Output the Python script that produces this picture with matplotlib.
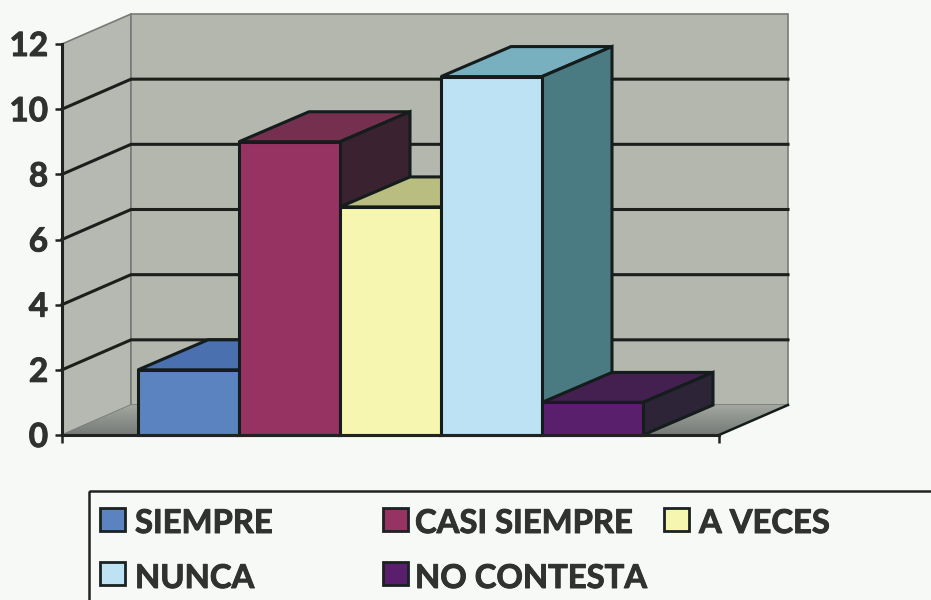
import matplotlib
matplotlib.use("Agg")
import matplotlib.pyplot as plt
import matplotlib.patheffects as pe
import numpy as np
from matplotlib.patches import Polygon, Rectangle

categories = ["SIEMPRE", "CASI SIEMPRE", "A VECES", "NUNCA", "NO CONTESTA"]
values = [2, 9, 7, 11, 1]
y_ticks = [0, 2, 4, 6, 8, 10, 12]
front_colors = ["#5b83bf", "#963362", "#f6f6b0", "#bde2f3", "#5a1f6c"]
top_colors = ["#4a70b0", "#75304f", "#b9bd80", "#79b0bf", "#43204f"]
side_colors = ["#2f4a78", "#3a2231", "#8a8c58", "#4b7b82", "#2d2437"]

PAPER = "#f6f9f5"
INK = "#303230"
EDGE = "#141c1c"
W, H = 931, 600
L, R, T, B = 62, 719, 44, 435
BAR0, BARW = 138, 101.0
DX_PX, DY_PX = 70, 30

plt.rcParams["font.family"] = ["Lato", "DejaVu Sans"]
fig = plt.figure(figsize=(W / 100, H / 100), dpi=100, facecolor=PAPER)
ax = fig.add_axes([L / W, 1 - B / H, (R - L) / W, (B - T) / H])
ax.set_facecolor("none")
x0 = -(BAR0 - L) / BARW
x1 = (R - BAR0) / BARW
dx = DX_PX / BARW
dy = DY_PX * 12 / (B - T)
wx = 69 / BARW  # wall depth

# walls and floor
ax.add_patch(Polygon([(x0, 0), (x0, 12), (x0 + wx, 12 + dy), (x0 + wx, dy)], fc="#b6b9b2",
                     ec="#777b75", lw=1.2, clip_on=False, zorder=1))
ax.add_patch(Polygon([(x0 + wx, dy), (x0 + wx, 12 + dy), (x1 + wx, 12 + dy), (x1 + wx, dy)], fc="#b4b7ae",
                     ec="#777b75", lw=1.2, clip_on=False, zorder=1))
floor = Polygon([(x0, 0), (x1, 0), (x1 + wx, dy), (x0 + wx, dy)], transform=ax.transData, fc="none", ec="none",
                clip_on=False)
ax.add_patch(floor)
grad = ax.imshow(np.linspace(0, 1, 32).reshape(-1, 1), cmap=matplotlib.colors.LinearSegmentedColormap.from_list(
    "floor", ["#a3a6a1", "#767b77"]), extent=(x0, x1 + wx, 0, dy), aspect="auto", zorder=1.5)
ax.set_xlim(x0, x1)
ax.set_ylim(0, 12)
grad.set_clip_box(fig.bbox)
grad.set_clip_path(floor)
ax.plot([x1, x1 + wx], [0, dy], color=EDGE, lw=1.8, clip_on=False, zorder=1.6)

# gridlines on both walls
for t in y_ticks[1:-1]:
    ax.plot([x0, x0 + wx, x1 + wx], [t, t + dy, t + dy], color="#1c1e1c", lw=2.2,
            solid_joinstyle="miter", clip_on=False, zorder=2)

# bars: front faces through bar(), depth faces from the same values
for i, (v, fc, tc, sc) in enumerate(zip(values, front_colors, top_colors, side_colors)):
    z = 3 + i
    kw = dict(ec=EDGE, lw=2.2, joinstyle="miter", clip_on=False, zorder=z)
    ax.add_patch(Polygon([(i, v), (i + 1, v), (i + 1 + dx, v + dy), (i + dx, v + dy)], fc=tc, **kw))
    ax.add_patch(Polygon([(i + 1, 0), (i + 1, v), (i + 1 + dx, v + dy), (i + 1 + dx, dy)], fc=sc, **kw))
    ax.bar(i + 0.5, v, width=1, color=fc, edgecolor=EDGE, linewidth=2.2, zorder=z + 0.5, clip_on=False)

# axes
for s in ["top", "right"]:
    ax.spines[s].set_visible(False)
for s in ["left", "bottom"]:
    ax.spines[s].set_color("#222")
    ax.spines[s].set_linewidth(2.2)
    ax.spines[s].set_zorder(20)
ax.set_yticks(y_ticks)
ax.set_xticks([x0, x1])
ax.set_xticklabels([])
ax.tick_params(axis="y", length=5, width=1.8, color="#222", pad=5, labelsize=24, labelcolor=INK)
ax.tick_params(axis="x", length=6, width=1.8, color="#222")
heavier = [pe.withStroke(linewidth=0.7, foreground=INK)]
for lab in ax.get_yticklabels():
    lab.set_fontweight("bold")
    lab.set_path_effects(heavier)

# legend, laid out in pixel space
lg = fig.add_axes([0, 0, 1, 1])
lg.set_xlim(0, W)
lg.set_ylim(H, 0)
lg.axis("off")
lg.add_patch(Rectangle((89, 491), 900, 300, fc="none", ec="#222", lw=1.8))
slots = [(100, 135, 508, 533), (383, 415, 508, 533), (664, 699, 508, 533),
         (100, 135, 562, 588), (383, 415, 562, 588)]
for name, fc, (sx, tx, sy, base) in zip(categories, front_colors, slots):
    lg.add_patch(Rectangle((sx, sy), 25, 23, fc=fc, ec="#1b2222", lw=2.0))
    lg.text(tx, base, name, fontsize=23.6, fontweight="bold", color=INK, ha="left", va="baseline",
            path_effects=heavier)

fig.savefig("out.png", dpi=100, facecolor=PAPER)
